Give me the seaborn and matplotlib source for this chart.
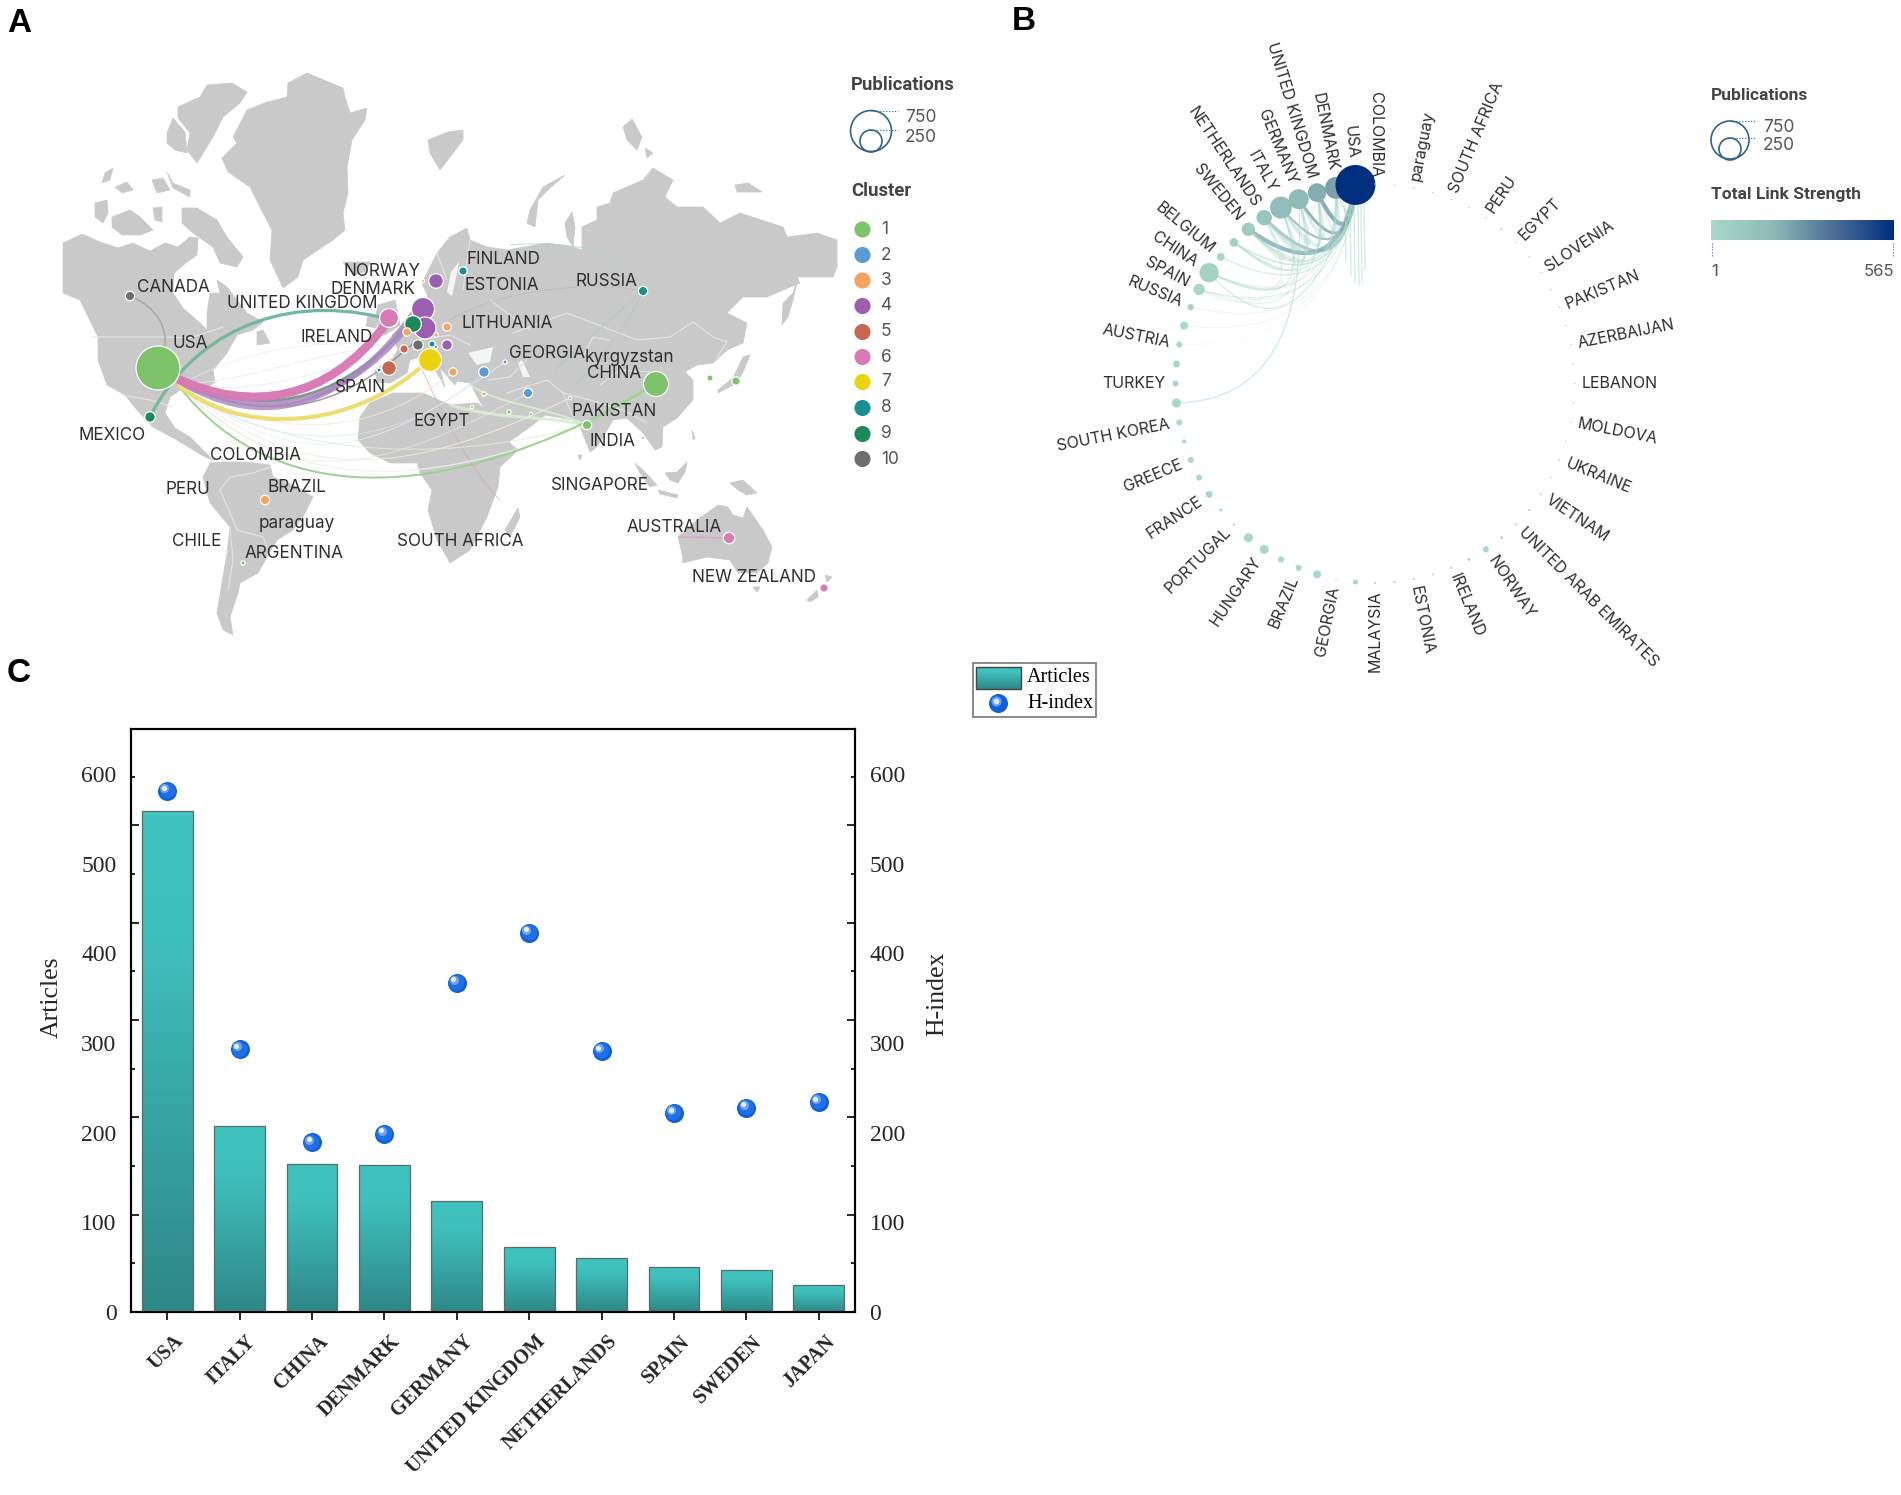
import numpy as np
import pandas as pd
import seaborn as sns
import matplotlib
matplotlib.use("Agg")
import matplotlib.pyplot as plt
from matplotlib.colors import LinearSegmentedColormap
from matplotlib.patches import Circle, PathPatch, Polygon, Rectangle
from matplotlib.path import Path
from matplotlib import transforms as mtransforms

# ---- panel C data
countries_c = ["USA", "ITALY", "CHINA", "DENMARK", "GERMANY", "UNITED KINGDOM",
               "NETHERLANDS", "SPAIN", "SWEDEN", "JAPAN"]
articles = [559, 207, 165, 163.5, 124, 72, 60, 50, 47, 30]
h_index = [581, 293, 189, 199, 367, 423, 291, 222, 228, 234]
y_labels = [0, 100, 200, 300, 400, 500, 600]
# the tick marks in the source do not line up with its labels
y_marks_long = [0, 108.5, 217, 325.5, 434, 542.5]
y_marks_short = [54.25, 162.75, 271.25, 379.75, 488.25, 596.75]

# ---- panel A data, node position in picture pixels
nodes_a_x = [158, 130, 150, 389, 423, 425, 413, 436, 423, 418, 432, 436, 447, 404, 389, 379, 430, 447, 436, 407,
             453, 484, 505, 528, 484, 509, 472, 531, 570, 463, 643, 656, 587, 643, 710, 736, 265, 243, 226, 729, 824, 674]
nodes_a_y = [368, 296, 417, 318, 309, 328, 324, 281, 281, 345, 344, 347, 345, 349, 368, 370, 360, 327, 335, 332,
             372, 372, 362, 393, 394, 412, 407, 414, 398, 271, 291, 384, 425, 438, 378, 381, 500, 563, 552, 538, 588, 469]
nodes_a_cluster = [1, 10, 9, 6, 4, 4, 9, 4, 3, 10, 8, 9, 4, 5, 5, 8, 7, 3, 3, 3,
                   3, 2, 2, 2, 3, 1, 1, 1, 1, 8, 8, 1, 1, 1, 1, 1, 3, 1, 5, 6, 6, 1]
nodes_a_pubs = [750, 34, 43, 138, 206, 188, 109, 83, 4, 43, 15, 4, 43, 27, 83, 7, 206, 27, 7, 27,
                27, 43, 7, 34, 7, 7, 4, 4, 4, 27, 34, 245, 34, 4, 15, 27, 34, 7, 2, 51, 27, 2]
cluster_ids = [1, 2, 3, 4, 5, 6, 7, 8, 9, 10]
cluster_colors = ["#7CC36B", "#5B9BD5", "#F4A460", "#9C5FB0", "#C9664F",
                  "#D87AB4", "#EAD40F", "#1C9090", "#1B8A5A", "#6E6E6E"]
map_labels = ["CANADA", "USA", "MEXICO", "UNITED KINGDOM", "NORWAY", "DENMARK", "IRELAND", "SPAIN", "EGYPT",
              "COLOMBIA", "PERU", "BRAZIL", "paraguay", "CHILE", "ARGENTINA", "SOUTH AFRICA", "FINLAND", "ESTONIA",
              "RUSSIA", "LITHUANIA", "GEORGIA", "kyrgyzstan", "CHINA", "PAKISTAN", "INDIA", "SINGAPORE",
              "AUSTRALIA", "NEW ZEALAND"]
map_labels_x = [173, 190, 112, 302, 382, 373, 337, 360, 442, 255, 188, 297, 297, 197, 294, 460, 503, 502,
                606, 507, 547, 629, 614, 614, 612, 600, 674, 754]
map_labels_y = [288, 343, 436, 303, 271, 290, 337, 388, 421, 456, 490, 487, 524, 542, 553, 542, 259, 286,
                282, 323, 353, 357, 374, 412, 442, 485, 527, 577]

# ---- land outlines, in picture pixels
north_america = [(63,243),(82,234),(100,242),(118,248),(133,243),(150,251),(165,243),(178,247),(190,237),(198,238),
                 (197,255),(187,262),(174,273),(173,293),(183,308),(200,323),(207,330),(207,313),(210,293),(220,293),
                 (217,280),(227,287),(247,313),(263,322),(253,330),(237,335),(227,353),(213,370),(215,382),(205,390),
                 (197,393),(183,388),(170,397),(165,413),(175,428),(190,437),(200,447),(213,460),(205,457),(177,440),
                 (153,427),(137,410),(125,395),(107,385),(98,360),(98,337),(80,300),(63,293)]
greenland = [(233,137),(247,110),(267,102),(287,97),(288,83),(307,73),(343,88),(345,97),(350,113),(367,108),(365,120),
             (352,140),(347,167),(348,193),(343,213),(345,230),(333,240),(303,260),(298,277),(283,288),(270,260),
             (272,230),(263,213),(250,187),(228,172),(222,158),(237,143)]
arctic_islands = [
    [(178,107),(200,97),(207,85),(232,83),(247,92),(240,103),(223,117),(213,137),(205,150),(197,163),(187,150),(190,133),(178,118)],
    [(167,133),(173,118),(185,132),(187,153),(175,150),(167,143)],
    [(182,208),(197,208),(217,220),(227,237),(243,257),(237,267),(220,263),(213,247),(193,233),(182,223)],
    [(112,217),(130,210),(140,217),(153,230),(140,235),(122,235),(112,227)],
    [(95,203),(107,200),(108,213),(103,223),(95,217)],
    [(115,187),(127,182),(133,190),(122,193)],
    [(152,180),(163,178),(170,190),(157,193)],
    [(153,208),(162,207),(162,222),(155,220)],
    [(105,173),(113,168),(110,180),(102,183)],
    [(167,172),(173,183),(190,190),(190,197),(173,188)],
    [(257,332),(263,330),(270,343),(257,345)],
    [(343,262),(370,262),(365,272),(353,275)],
]
south_america = [(210,463),(223,462),(245,462),(270,465),(273,477),(297,487),(313,497),(303,517),(293,530),(277,540),
                 (267,557),(258,573),(240,583),(238,593),(230,617),(233,635),(223,630),(217,613),(222,583),(227,553),
                 (230,527),(210,503),(203,477)]
africa = [(360,417),(370,403),(393,393),(423,393),(450,405),(477,403),(487,410),(503,437),(518,450),(500,467),(498,487),
          (487,517),(470,550),(450,563),(437,540),(428,510),(432,490),(420,473),(417,463),(390,463),(370,453),(358,440)]
madagascar = [(518,508),(520,517),(510,537),(505,530)]
eurasia = [(450,237),(467,228),(470,240),(487,247),(507,250),(547,243),(573,247),(582,250),(582,227),(597,220),(597,207),
           (610,203),(613,193),(643,180),(653,168),(673,180),(665,197),(677,207),(703,207),(720,223),(740,213),(783,227),
           (787,237),(817,233),(837,240),(837,267),(833,277),(797,277),(800,283),(783,290),(767,297),(743,297),(727,313),
           (747,323),(743,343),(727,350),(713,363),(697,365),(685,372),(693,380),(693,400),(677,418),(663,427),(662,447),
           (655,450),(643,433),(627,418),(613,420),(597,447),(590,452),(580,427),(573,420),(545,415),(530,427),(507,443),
           (493,423),(478,398),(470,383),(450,380),(463,370),(455,385),(440,368),(445,388),(440,378),(425,355),(410,360),
           (407,373),(390,383),(377,382),(375,370),(393,358),(398,350),(392,335),(405,325),(417,315),(415,300),(428,297),
           (422,283),(437,253)]
inland_seas = [[(468,353),(493,347),(490,362),(477,365)], [(522,360),(530,377),(523,377),(518,363)],
               [(447,292),(451,272),(459,262),(456,278),(452,296)]]
other_land = [
    [(378,305),(395,300),(400,325),(385,335),(375,320)], [(368,315),(378,315),(376,328),(366,326)],
    [(565,175),(543,187),(530,210),(527,223),(535,227),(538,200),(550,188)],
    [(428,140),(448,132),(463,130),(463,140),(440,170),(430,153)],
    [(623,127),(632,119),(642,137),(637,150),(627,140)], [(645,148),(653,153),(647,158)],
    [(735,185),(748,183),(762,192),(737,192)], [(565,223),(572,212),(575,227),(573,247),(567,237)],
    [(798,278),(793,293),(783,303),(782,325),(788,317),(793,300)],
    [(743,357),(750,355),(743,372),(737,383),(718,393),(718,390),(733,378)],
    [(635,463),(645,472),(657,485),(650,487),(640,473)], [(665,473),(677,472),(687,462),(685,472),(678,483),(670,480)],
    [(658,490),(678,495),(677,498),(660,494)], [(730,483),(743,480),(757,493),(747,495),(738,490)],
    [(692,430),(695,438),(693,440)], [(578,455),(582,455),(580,460)],
    [(678,537),(697,520),(707,513),(718,505),(728,507),(733,515),(743,518),(747,507),(763,530),(772,547),(768,563),
     (757,573),(738,573),(730,560),(707,557),(683,563),(682,553)],
    [(753,587),(760,587),(757,592)], [(807,600),(817,590),(818,597),(810,602)], [(825,575),(832,577),(827,582)],
]
borders = [[(93,337),(163,337),(190,338),(223,327)], [(122,395),(150,400),(173,407)],
           [(513,333),(567,313),(593,323),(637,340),(670,337),(693,322),(713,337),(727,342),(717,357)],
           [(583,357),(593,337),(610,340)], [(563,393),(590,400),(623,410),(647,423)],
           [(507,393),(547,380),(563,393),(573,417)], [(488,380),(510,377),(527,360)],
           [(220,490),(230,477),(253,473),(270,467)], [(220,490),(230,513),(237,530),(263,537),(267,547)],
           [(230,527),(233,560),(228,590)], [(437,253),(447,280)], [(463,290),(470,240)],
           [(420,340),(450,335),(470,345)], [(490,300),(530,330)], [(600,385),(620,370),(650,372)]]

# ---- panel A links: four bezier control points, colour, width, alpha
links_a = [
    ([(178,379),(250,412),(327,402),(385,325)], "#D87AB4", 6.2, 0.98),
    ([(178,381),(255,428),(337,418),(413,313)], "#A987BE", 3.4, 0.8),
    ([(178,380),(255,422),(337,412),(408,327)], "#A987BE", 3.6, 0.85),
    ([(178,380),(257,417),(333,407),(403,330)], "#6F8E86", 2.0, 0.9),
    ([(178,382),(263,422),(333,417),(417,340)], "#888888", 1.1, 0.8),
    ([(178,385),(237,433),(343,433),(420,368)], "#EEDD70", 3.0, 1.0),
    ([(150,417),(190,337),(277,293),(380,317)], "#73B89A", 2.3, 1.0),
    ([(130,296),(157,307),(167,327),(165,347)], "#AAAAAA", 1.2, 1.0),
    ([(178,385),(280,517),(463,500),(656,384)], "#9AD28F", 1.4, 1.0),
    ([(178,385),(280,460),(400,450),(484,372)], "#D5E5F2", 0.7, 0.7),
    ([(178,385),(270,450),(420,470),(587,425)], "#DDEFD8", 0.8, 0.8),
    ([(178,385),(270,440),(370,440),(453,372)], "#FAE6D2", 0.7, 0.8),
    ([(178,385),(250,350),(300,340),(380,345)], "#E2ECF2", 0.6, 0.8),
    ([(178,385),(280,480),(350,490),(528,393)], "#EEE8E0", 0.6, 0.8),
    ([(178,385),(290,495),(420,490),(587,425)], "#EAF4E6", 0.9, 0.9),
    ([(178,385),(250,380),(290,360),(384,345)], "#F0ECE6", 0.7, 0.9),
    ([(178,385),(260,395),(310,375),(388,352)], "#E6EEF4", 0.7, 0.9),
    ([(178,385),(300,470),(360,465),(505,362)], "#E6EEF6", 0.6, 0.9),
    ([(178,385),(300,485),(400,480),(570,398)], "#F4ECE0", 0.7, 0.9),
    ([(587,425),(540,415),(500,420),(450,405)], "#D8EED0", 2.2, 0.9),
    ([(587,425),(540,405),(500,405),(470,385)], "#D8EED0", 1.4, 0.9),
    ([(656,384),(630,395),(610,410),(587,425)], "#A8D89A", 1.0, 0.9),
    ([(643,291),(610,320),(580,345),(555,370)], "#A8C8C8", 0.5, 0.9),
    ([(643,291),(625,330),(600,360),(575,385)], "#A8C8C8", 0.5, 0.9),
    ([(643,291),(630,250),(570,240),(510,245)], "#B0D0CC", 0.6, 0.9),
    ([(643,291),(590,280),(500,290),(450,320)], "#B8B8B8", 0.5, 0.9),
    ([(420,365),(440,410),(470,470),(500,500)], "#D0A8B8", 0.6, 0.8),
    ([(729,538),(710,538),(695,537),(678,537)], "#D8A8C8", 1.4, 0.9),
    ([(729,538),(710,542),(695,548),(682,553)], "#D8B8C8", 0.5, 0.9),
]

# ---- panel B data, 64 slots round the circle, slot 0 at the bottom going clockwise
circle_pubs = [2, 12, 1, 30, 17, 17, 38, 38, 2, 4, 23, 17, 17, 8, 17, 38,
               17, 23, 17, 30, 20, 61, 176, 30, 35, 84, 111, 227, 188, 162, 227, 750,
               1, 1, 1, 1, 1, 1, 1, 2, 1, 1, 1, 1, 1, 1, 1, 1,
               1, 1, 1, 1, 1, 1, 2, 2, 2, 4, 17, 4, 2, 2, 2, 2]
circle_strength = [1, 2, 1, 3, 2, 3, 4, 4, 1, 2, 4, 3, 3, 2, 4, 8,
                   4, 6, 4, 8, 8, 12, 30, 14, 40, 80, 120, 170, 190, 220, 250, 565,
                   1, 1, 1, 1, 1, 1, 1, 1, 1, 1, 1, 1, 1, 1, 1, 1,
                   1, 1, 1, 1, 1, 1, 1, 1, 1, 1, 2, 1, 1, 1, 1, 1]
circle_labels = {0: "MALAYSIA", 2: "GEORGIA", 4: "BRAZIL", 6: "HUNGARY", 8: "PORTUGAL", 10: "FRANCE", 12: "GREECE",
                 14: "SOUTH KOREA", 16: "TURKEY", 18: "AUSTRIA", 20: "RUSSIA", 21: "SPAIN", 22: "CHINA", 23: "BELGIUM",
                 25: "SWEDEN", 26: "NETHERLANDS", 27: "ITALY", 28: "GERMANY", 29: "UNITED KINGDOM", 30: "DENMARK",
                 31: "USA", 32: "COLOMBIA", 34: "paraguay", 36: "SOUTH AFRICA", 38: "PERU", 40: "EGYPT", 42: "SLOVENIA",
                 44: "PAKISTAN", 46: "AZERBAIJAN", 48: "LEBANON", 50: "MOLDOVA", 52: "UKRAINE", 54: "VIETNAM",
                 56: "UNITED ARAB EMIRATES", 58: "NORWAY", 60: "IRELAND", 62: "ESTONIA"}
# links: slot, slot, pull to centre, width, alpha
links_b = [(31, 29, 0.64, 3.0, 0.9), (31, 28, 0.575, 2.0, 0.85), (31, 25, 0.51, 3.0, 0.8), (31, 27, 0.55, 1.5, 0.7),
           (31, 26, 0.47, 2.2, 0.6), (31, 30, 0.7, 1.2, 0.6), (31, 24, 0.45, 1.2, 0.55), (31, 23, 0.42, 0.9, 0.45),
           (31, 21, 0.38, 0.7, 0.4), (30, 29, 0.55, 1.2, 0.4), (30, 28, 0.5, 1.2, 0.4),
           (30, 27, 0.48, 1.2, 0.4), (30, 26, 0.45, 1.2, 0.4), (30, 25, 0.43, 1.2, 0.4), (29, 28, 0.55, 1.1, 0.4),
           (29, 27, 0.5, 1.1, 0.4), (29, 26, 0.47, 1.1, 0.4), (29, 25, 0.43, 1.1, 0.4), (29, 24, 0.4, 0.9, 0.4),
           (28, 27, 0.55, 1.1, 0.4), (28, 26, 0.5, 1.1, 0.4), (28, 25, 0.45, 1.1, 0.4), (28, 24, 0.42, 0.9, 0.35),
           (28, 22, 0.38, 0.8, 0.35), (27, 26, 0.55, 1.1, 0.4), (27, 25, 0.5, 1.1, 0.4), (27, 24, 0.45, 0.9, 0.35),
           (27, 22, 0.38, 0.9, 0.4), (27, 21, 0.32, 0.7, 0.35), (26, 25, 0.55, 1.0, 0.4), (26, 24, 0.5, 0.8, 0.35),
           (26, 22, 0.42, 0.8, 0.35), (30, 21, 0.35, 0.7, 0.3), (30, 22, 0.38, 0.8, 0.3),
           (31, 20, 0.3, 0.5, 0.3), (31, 19, 0.3, 0.5, 0.25), (31, 18, 0.3, 0.4, 0.2), (29, 22, 0.36, 0.7, 0.3)]
# two long pale links that do not follow the pull rule: slot, slot, control point in pixels
links_b_free = [(15, 28, (1310, 400), 0.9, 0.55), (22, 31, (1300, 375), 0.9, 0.5), (21, 29, (1290, 340), 0.6, 0.3)]
# the pale strands below the USA node
strands_b_x = [1345, 1350, 1354, 1358, 1361, 1364]
strands_b_end = [262, 275, 283, 285, 283, 270]

cb_colors = ["#A8D8C8", "#8FBAB8", "#4F6F95", "#002F7F"]
strength_cmap = LinearSegmentedColormap.from_list("strength", cb_colors)
bar_cmap = LinearSegmentedColormap.from_list("bar", [(0, "#40C3BF"), (0.25, "#3FC0BD"), (1, "#2E8887")])


def bezier(points):
    return Path(points, [Path.MOVETO, Path.CURVE4, Path.CURVE4, Path.CURVE4])


def gradient_box(axis, box):
    ramp = np.linspace(0, 1, 64).reshape(-1, 1)
    return axis.imshow(ramp, extent=box, cmap=bar_cmap, aspect="auto", zorder=3)


sns.set_style("white")
plt.rcParams["font.family"] = ["Inter", "DejaVu Sans"]
fig = plt.figure(figsize=(19.01, 14.95), dpi=100)

# full picture layer for panels A and B, one unit is one pixel
layer = fig.add_axes([0, 0, 1, 1])
layer.axis("off")

# ---- panel A
land = "#C9C9C9"
for outline in [north_america, greenland, south_america, africa, madagascar, eurasia] + arctic_islands + other_land:
    layer.add_patch(Polygon(outline, closed=True, fc=land, ec=land, lw=0.5, joinstyle="round", zorder=1))
for outline in inland_seas:
    layer.add_patch(Polygon(outline, closed=True, fc="#F4F6F4", ec="none", zorder=1.1))
for line in borders:
    layer.plot(*zip(*line), color="#E4E4E4", lw=0.8, zorder=1.2)
for points, color, width, alpha in links_a[::-1]:
    layer.add_patch(PathPatch(bezier(points), fc="none", ec=color, lw=width, alpha=alpha, capstyle="butt", zorder=2))

nodes_a = pd.DataFrame({"x": nodes_a_x, "y": nodes_a_y, "cluster": nodes_a_cluster, "pubs": nodes_a_pubs})
sns.scatterplot(data=nodes_a.sort_values("pubs", ascending=False), x="x", y="y", hue="cluster",
                palette=dict(zip(cluster_ids, cluster_colors)), size="pubs", size_norm=(0, 750), sizes=(0, 1000),
                edgecolor="white", linewidth=0.9, legend=False, ax=layer, zorder=4)
for name, x, y in zip(map_labels, map_labels_x, map_labels_y):
    layer.text(x, y, name, ha="center", va="center", fontsize=12.3, color="#2E2E2E", zorder=5)

# bubble size key
def size_key(x, big_y, small_y, big_r, small_r, x_line, x_text):
    layer.add_patch(Circle((x, big_y), big_r, fc="none", ec="#2F6388", lw=1.2))
    layer.add_patch(Circle((x, small_y), small_r, fc="none", ec="#2F6388", lw=1.2))
    layer.plot([x, x_line], [big_y - big_r, big_y - big_r], color="#2F6388", lw=0.8, ls=":")
    layer.plot([x, x_line], [small_y - small_r, small_y - small_r], color="#2F6388", lw=0.8, ls=":")
    layer.text(x_text, big_y - big_r + 7, "750", va="center", fontsize=12.5, color="#555555")
    layer.text(x_text, small_y - small_r + 7, "250", va="center", fontsize=12.5, color="#555555")


layer.text(851, 85, "Publications", fontsize=13.3, family="Roboto", weight="bold", color="#444444", va="center")
size_key(871, 131, 141, 20.5, 11, 898, 905)
layer.text(851, 191, "Cluster", fontsize=13.3, family="Roboto", weight="bold", color="#444444", va="center")
cluster_y = [229.5, 255, 280.5, 306, 332, 357, 382, 408, 434, 459]
key = pd.DataFrame({"x": [862.5] * 10, "y": cluster_y, "cluster": cluster_ids})
sns.scatterplot(data=key, x="x", y="y", hue="cluster", palette=dict(zip(cluster_ids, cluster_colors)),
                s=135, linewidth=0, legend=False, ax=layer)
for cid, y in zip(cluster_ids, cluster_y):
    layer.text(881, y, str(cid), va="center", fontsize=12.5, color="#555555")

# ---- panel B
cx, cy, radius = 1375, 383.5, 199.5
slots = np.arange(64)
angle = np.radians(270 - slots * 5.625)
circle = pd.DataFrame({"x": cx + radius * np.cos(angle), "y": cy - radius * np.sin(angle),
                       "pubs": circle_pubs, "strength": circle_strength})
for a, b, pull, width, alpha in links_b:
    pa, pb = circle.loc[a, ["x", "y"]].to_numpy(float), circle.loc[b, ["x", "y"]].to_numpy(float)
    mid = (pa + pb) / 2 - [cx, cy]
    ctrl = np.array([cx, cy]) + mid * pull
    path = Path([pa, ctrl, pb], [Path.MOVETO, Path.CURVE3, Path.CURVE3])
    color = "#7FA6AE" if width >= 1.5 else "#A8D8C8"
    layer.add_patch(PathPatch(path, fc="none", ec=color, lw=width, alpha=alpha, zorder=2))
for a, b, ctrl, width, alpha in links_b_free:
    pa, pb = circle.loc[a, ["x", "y"]].to_numpy(float), circle.loc[b, ["x", "y"]].to_numpy(float)
    path = Path([pa, ctrl, pb], [Path.MOVETO, Path.CURVE3, Path.CURVE3])
    layer.add_patch(PathPatch(path, fc="none", ec="#A8D8C8", lw=width, alpha=alpha, zorder=2))
for x, end in zip(strands_b_x, strands_b_end):
    layer.plot([x, x + 1], [205, end], color="#A8D8C8", lw=1.0, alpha=0.5, zorder=2)

sns.scatterplot(data=circle, x="x", y="y", hue="strength", hue_norm=(1, 565), palette=strength_cmap,
                size="pubs", size_norm=(0, 750), sizes=(0, 829), linewidth=0, legend=False, ax=layer, zorder=4)
for slot, name in circle_labels.items():
    node_r = 20 * np.sqrt(circle_pubs[slot] / 750)
    r = 206 + node_r
    deg = np.degrees(angle[slot]) % 360
    x, y = cx + r * np.cos(angle[slot]), cy - r * np.sin(angle[slot])
    if slot <= 32:
        layer.text(x, y, name, rotation=deg - 180, rotation_mode="anchor", ha="right", va="center",
                   fontsize=11.5, color="#2E2E2E", zorder=5)
    else:
        layer.text(x, y, name, rotation=(deg + 180) % 360 - 180, rotation_mode="anchor", ha="left", va="center",
                   fontsize=11.5, color="#2E2E2E", zorder=5)

layer.text(1711, 95, "Publications", fontsize=12.5, family="Roboto", weight="bold", color="#444444", va="center")
size_key(1730, 140, 149, 19, 11, 1756, 1763)
layer.text(1711, 195, "Total Link Strength", fontsize=12.5, family="Roboto", weight="bold", color="#444444", va="center")
layer.imshow(np.linspace(0, 1, 128).reshape(1, -1), extent=[1711, 1894, 240, 220], cmap=strength_cmap, aspect="auto")
for x in [1711.5, 1893]:
    layer.plot([x, x], [243, 256], color="#2F6388", lw=0.8, ls=":")
layer.text(1711, 272, "1", va="center", fontsize=12, color="#555555")
layer.text(1894, 272, "565", ha="right", va="center", fontsize=12, color="#555555")

# panel letters
for letter, x, y in [("A", 7, 23), ("B", 1012, 22), ("C", 7, 674)]:
    layer.text(x, y, letter, fontsize=24, family="Liberation Sans", weight="bold", color="black", va="center")

# panel C key
layer.add_patch(Rectangle((973, 663), 123, 54, fc="white", ec="#777777", lw=1.2, zorder=1))
gradient_box(layer, [976, 1021, 689, 667])
layer.add_patch(Rectangle((976, 667), 45, 22, fc="none", ec="#444444", lw=1, zorder=4))
layer.text(1027, 678, "Articles", fontsize=14.5, family="Liberation Serif", va="center", color="black", zorder=4)
layer.text(1027, 704, "H-index", fontsize=14.5, family="Liberation Serif", va="center", color="black", zorder=4)
layer.scatter([998], [703], s=187, color="#0F5FD8", linewidth=0, zorder=4)
layer.scatter([996], [701], s=55, color="#5F9AEE", linewidth=0, zorder=4)
layer.scatter([995.5], [700.5], s=18, color="#DCE8FA", linewidth=0, zorder=4)
layer.set_xlim(0, 1901)
layer.set_ylim(1495, 0)

# ---- panel C
W, H = 1901, 1495
ax = fig.add_axes([131 / W, 1 - 1312 / H, (855 - 131) / W, (1312 - 729) / H])
ax.patch.set_alpha(0)
table = pd.DataFrame({"country": countries_c, "articles": articles, "h_index": h_index})
sns.barplot(data=table, x="country", y="articles", color="#40C3BF", width=0.7, edgecolor="#5A6A6A", linewidth=0.9,
            ax=ax, zorder=2)
for patch in list(ax.patches):
    b = patch.get_bbox()
    image = gradient_box(ax, [b.x0, b.x1, b.y0, b.y1])
    image.set_clip_path(patch)
    patch.set_facecolor("none")
    patch.set_zorder(4)
ax.set_xlim(-0.5, 9.5)
ax.set_ylim(0, 650)
ax.set_xlabel("")
ax.set_ylabel("")

right = ax.twinx()
right.set_ylim(0, 650)
right.patch.set_alpha(0)
base = right.transData
layers = [((0, 0), 187, "#0F5FD8"), ((-0.5, 0.5), 125, "#1F70E6"), ((-2, 2), 42, "#6FA4EE"), ((-2.4, 2.4), 14, "#E4EDFB")]
for (dx, dy), size, color in layers:
    shift = base + mtransforms.ScaledTranslation(dx / 72, dy / 72, fig.dpi_scale_trans)
    sns.scatterplot(data=table, x="country", y="h_index", s=size, color=color, linewidth=0, legend=False,
                    transform=shift, ax=right, zorder=5)
right.set_xlim(-0.5, 9.5)
right.set_ylim(0, 650)
right.set_xlabel("")
right.set_ylabel("")

for axis in [ax, right]:
    axis.set_yticks(y_labels, [str(v) for v in y_labels], fontsize=17, family="Liberation Serif")
    axis.set_yticks(y_marks_long + y_marks_short, minor=True)
    axis.tick_params(axis="y", which="major", length=0, pad=10.5)
    axis.tick_params(axis="y", which="minor", direction="in", width=1.4, left=axis is ax, right=axis is right)
    for tick, pos in zip(axis.yaxis.get_minor_ticks(), axis.yaxis.get_minorticklocs()):
        length = 6 if pos in y_marks_long else 3
        tick.tick1line.set_markersize(length)
        tick.tick2line.set_markersize(length)
    for spine in axis.spines.values():
        spine.set_visible(True)
        spine.set_linewidth(1.5)
        spine.set_color("black")

ax.set_xticks(range(len(countries_c)))
ax.set_xticklabels(countries_c, rotation=45, ha="right", rotation_mode="anchor", fontsize=14.5,
                   family="Liberation Serif", weight="bold")
ax.tick_params(axis="x", bottom=True, direction="out", length=6, width=1.4, pad=8)
nudge = mtransforms.ScaledTranslation(6 / 100, 0, fig.dpi_scale_trans)
for label in ax.get_xticklabels():
    label.set_transform(label.get_transform() + nudge)
right.tick_params(axis="x", bottom=False, labelbottom=False)

fig.text(52 / W, 1 - 997 / H, "Articles", rotation=90, ha="center", va="center", fontsize=18.5, family="Liberation Serif")
fig.text(937 / W, 1 - 994 / H, "H-index", rotation=90, ha="center", va="center", fontsize=18.5, family="Liberation Serif")

fig.savefig("out.png", dpi=100)
